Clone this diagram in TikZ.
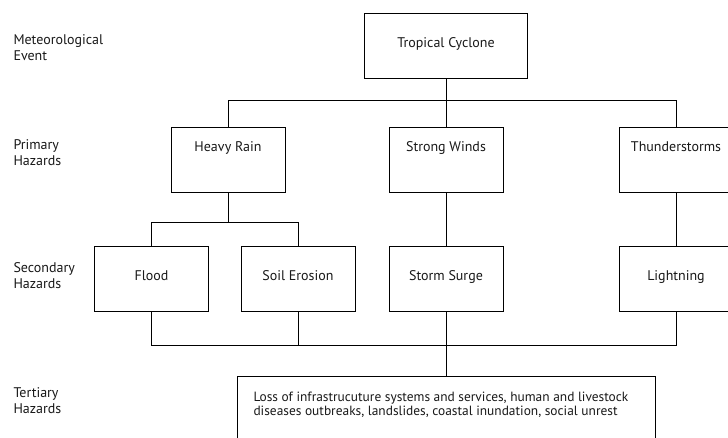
\documentclass[tikz,border=0pt]{standalone}
\usepackage{fontspec}
\setmainfont{PT Sans}
\begin{document}
\begin{tikzpicture}[x=1pt, y=-1pt, line width=1pt,
  every node/.style={text=black!90},
  box/.style={draw=black, rectangle, inner xsep=0pt, inner ysep=0pt,
    minimum width=114pt, anchor=north, font=\fontsize{14}{16}\selectfont},
  toptext/.style={text height=24pt, text depth=41pt},
  midtext/.style={text height=34pt, text depth=31pt},
  rowlabel/.style={anchor=north west, align=left, inner sep=0pt,
    font=\fontsize{14}{16.5}\selectfont}]
\useasboundingbox[fill=white] (0,0) rectangle (728,437);

% level labels
\node[rowlabel] (lev1) at (13,34) {Meteorological\\Event};
\node[rowlabel] (lev2) at (13,139) {Primary\\Hazards};
\node[rowlabel] (lev3) at (13,262) {Secondary\\Hazards};
\node[rowlabel] (lev4) at (13,387) {Tertiary\\Hazards};

% event
\node[box, minimum width=163pt, text height=34pt, text depth=31pt] (tc) at (446,13) {Tropical Cyclone};

% primary hazards
\node[box, toptext] (hr) at (228,127) {Heavy Rain};
\node[box, toptext] (sw) at (446,127) {Strong Winds};
\node[box, toptext] (ts) at (676,127) {Thunderstorms};

% secondary hazards
\node[box, midtext] (fl) at (151.5,246) {Flood};
\node[box, midtext] (se) at (298,246) {Soil Erosion};
\node[box, midtext] (ss) at (446,246) {Storm Surge};
\node[box, midtext] (lt) at (676,246) {Lightning};

% tertiary hazards
\node[draw=black, rectangle, anchor=north west, inner sep=0pt,
  minimum width=418pt, minimum height=90pt] (tt) at (237,376) {};
\node[anchor=north west, align=left, inner sep=0pt,
  font=\fontsize{13.4}{14.5}\selectfont] (ttxt) at (253,391.5)
  {Loss of infrastrucuture systems and services, human and livestock\\
   diseases outbreaks, landslides, coastal inundation, social unrest};

% bus lines
\coordinate (bus1) at (0,100);
\coordinate (bus2) at (0,222);
\coordinate (bus3) at (0,345);

\draw (tc.south) -- (sw.north);
\draw (hr.north) |- (bus1 -| ts.north) -- (ts.north);

\draw (hr.south) -- (hr.south |- bus2);
\draw (fl.north) |- (bus2 -| se.north) -- (se.north);
\draw (sw.south) -- (ss.north);
\draw (ts.south) -- (lt.north);

\draw (fl.south) |- (bus3 -| lt.south) -- (lt.south);
\draw (se.south) -- (se.south |- bus3);
\draw (ss.south) -- (tt.north -| ss.south);
\end{tikzpicture}
\end{document}
